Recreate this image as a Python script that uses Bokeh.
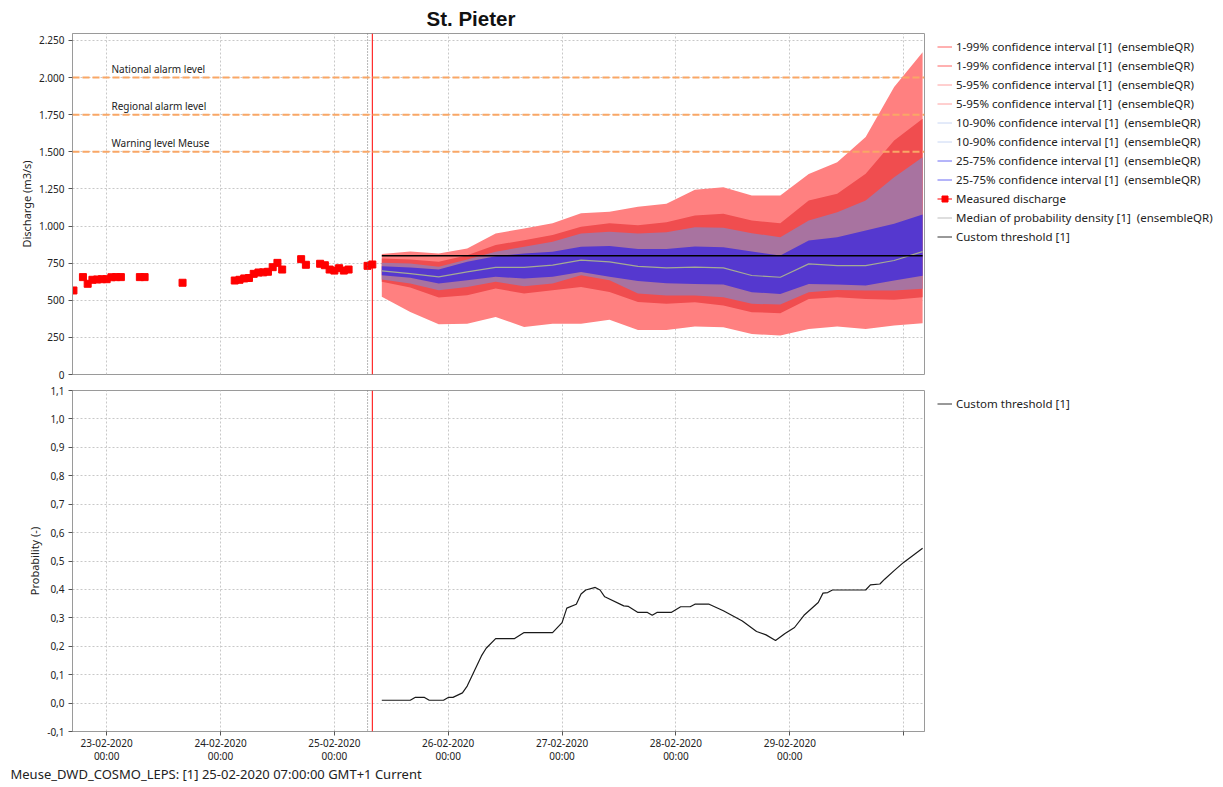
import pandas as pd
from bokeh.plotting import figure
from bokeh.layouts import column
from bokeh.models import (FixedTicker, Span, Label, Legend, LegendItem, Title, Range1d)
from bokeh.embed import file_html
from bokeh.resources import INLINE

# ---------------- data (time = hours since 23-02-2020 00:00, GMT+1) ----------------
day_ticks = [0, 24, 48, 72, 96, 120, 144, 168]
day_labels = ["23-02-2020\n00:00", "24-02-2020\n00:00", "25-02-2020\n00:00", "26-02-2020\n00:00",
              "27-02-2020\n00:00", "28-02-2020\n00:00", "29-02-2020\n00:00", ""]

q_ticks = [0, 250, 500, 750, 1000, 1250, 1500, 1750, 2000, 2250]
p_ticks = [-0.1, 0.0, 0.1, 0.2, 0.3, 0.4, 0.5, 0.6, 0.7, 0.8, 0.9, 1.0, 1.1]

alarm_levels = [2000, 1750, 1500]
alarm_names = ["National alarm level", "Regional alarm level", "Warning level Meuse"]

current_time_h = 55      # 25-02-2020 07:00 (forecast T0)
observed_until_h = 56    # red vertical marker
threshold = 800

meas_h = [-7, -5, -4, -3, -2, -1, 0, 1, 2, 3, 7, 8, 16, 27, 28, 29, 30, 31, 32, 33, 34, 35,
          36, 37, 41, 42, 45, 46, 47, 48, 49, 50, 51, 55, 56]
meas_q = [566, 656, 611, 638, 640, 642, 642, 655, 656, 656, 656, 656, 618, 633, 638, 647, 650,
          678, 687, 688, 692, 723, 752, 707, 777, 739, 746, 736, 707, 700, 716, 700, 707, 732, 741]

fc_h = [58, 64, 70, 76, 82, 88, 94, 100, 106, 112, 118, 124, 130, 136, 142, 148, 154, 160, 166, 172]
q99 = [811, 829, 815, 849, 950, 984, 1018, 1086, 1097, 1130, 1150, 1244, 1262, 1206, 1206, 1351, 1430, 1599, 1936, 2171]
q95 = [782, 775, 759, 804, 872, 905, 939, 996, 1018, 1005, 1026, 1071, 1082, 1037, 1019, 1172, 1217, 1352, 1576, 1722]
q90 = [752, 748, 725, 775, 827, 860, 894, 950, 962, 950, 959, 992, 988, 952, 925, 1037, 1093, 1172, 1329, 1464]
q75 = [730, 721, 707, 759, 797, 815, 827, 860, 865, 845, 846, 862, 857, 828, 801, 902, 925, 970, 1015, 1078]
q50 = [698, 680, 658, 691, 721, 721, 737, 770, 759, 728, 718, 723, 718, 667, 655, 745, 734, 734, 768, 828]
q25 = [669, 651, 613, 635, 658, 646, 658, 691, 658, 630, 615, 610, 606, 554, 543, 610, 606, 599, 633, 666]
q10 = [640, 613, 568, 590, 624, 595, 613, 669, 635, 545, 532, 532, 521, 476, 471, 554, 570, 566, 566, 577]
q05 = [624, 586, 518, 534, 579, 545, 568, 590, 556, 488, 476, 487, 465, 420, 413, 509, 521, 509, 503, 521]
q01 = [523, 421, 338, 342, 388, 320, 342, 342, 369, 300, 300, 323, 318, 273, 262, 307, 323, 307, 330, 346]

prob_h = [58, 64, 65, 67, 68, 71, 72, 73, 75, 76, 77, 79, 80, 82, 86, 88, 94, 96, 97, 99, 100, 101,
          103, 104, 105, 109, 110, 112, 114, 115, 116, 119, 121, 123, 124, 127, 130, 134, 137, 139,
          141, 143, 145, 147, 150, 151, 152, 153, 160, 161, 163, 164, 166, 168, 172]
prob_v = [0.01, 0.01, 0.02, 0.02, 0.01, 0.01, 0.02, 0.02, 0.036, 0.06, 0.095, 0.166, 0.193, 0.227,
          0.227, 0.248, 0.248, 0.283, 0.334, 0.348, 0.384, 0.398, 0.407, 0.398, 0.374, 0.342, 0.34,
          0.319, 0.319, 0.309, 0.319, 0.319, 0.339, 0.339, 0.348, 0.348, 0.325, 0.289, 0.252, 0.24,
          0.22, 0.245, 0.266, 0.309, 0.354, 0.387, 0.389, 0.398, 0.398, 0.416, 0.419, 0.436, 0.466,
          0.495, 0.545]

# ---------------- styling ----------------
FONT = "Noto Sans"
GRID = "#C8C8C8"
AXIS = "#9A9A9A"
TXT = "#222222"
FW, FH = 852, 341

xr = Range1d(-7.2, 172.4)


def base_fig(yr, top, bottom):
    p = figure(frame_width=FW, frame_height=FH, x_range=xr, y_range=yr,
               output_backend="svg", toolbar_location=None,
               min_border_left=72, min_border_right=295,
               min_border_top=top, min_border_bottom=bottom)
    p.outline_line_color = AXIS
    p.background_fill_color = "white"
    p.border_fill_color = "white"
    p.xgrid.ticker = FixedTicker(ticks=day_ticks)
    for g in (p.xgrid, p.ygrid):
        g.grid_line_color = GRID
        g.grid_line_dash = "2 2"
        g.grid_line_width = 1
    for ax in (p.xaxis, p.yaxis):
        ax.axis_line_color = AXIS
        ax.major_tick_line_color = "#555555"
        ax.major_tick_out = 4
        ax.major_tick_in = 0
        ax.minor_tick_out = 0
        ax.minor_tick_in = 0
        ax.major_label_text_font = FONT
        ax.major_label_text_font_size = "10px"
        ax.major_label_text_color = TXT
        ax.axis_label_text_font = FONT
        ax.axis_label_text_font_size = "11px"
        ax.axis_label_text_font_style = "normal"
        ax.axis_label_text_color = TXT
    p.yaxis.major_label_standoff = 4
    p.yaxis.axis_label_standoff = 2
    p.add_layout(Span(location=current_time_h, dimension="height", line_color="#707070",
                      line_dash="1 2", line_width=1))
    p.add_layout(Span(location=observed_until_h, dimension="height", line_color="#FF0000",
                      line_width=1))
    return p


def make_legend(items):
    n = len(items)
    h = n * 19 + (n - 1) * 0
    return Legend(items=items, location=(13, FH - 4 - h), orientation="vertical",
                  padding=0, margin=0, spacing=0, glyph_height=19, glyph_width=15,
                  label_height=19, label_standoff=4, label_text_font=FONT,
                  label_text_font_size="11.5px", label_text_color=TXT,
                  background_fill_alpha=0, border_line_alpha=0,
                  inactive_fill_alpha=0)


def swatch(fig, x, y, color):
    # hidden series line: only its legend symbol (a line, as in the source chart) is shown
    return fig.line(x=x, y=y, line_color=color, line_width=1, visible=False)


# ---------------- top: discharge ----------------
p1 = base_fig(Range1d(0, 2297), 33, 8)
p1.xaxis.visible = False
p1.yaxis.ticker = FixedTicker(ticks=q_ticks)
p1.yaxis.major_label_overrides = {t: f"{t:,}".replace(",", ".") for t in q_ticks}
p1.yaxis.axis_label = "Discharge (m3/s)"

p1.title.text = "St. Pieter"
p1.title.align = "left"
p1.title.offset = 354
p1.title.text_font = "Liberation Sans"
p1.title.text_font_size = "20.5px"
p1.title.text_font_style = "bold"
p1.title.text_color = "#111111"
p1.title.standoff = 8

for lvl, name in zip(alarm_levels, alarm_names):
    p1.add_layout(Span(location=lvl, dimension="width", line_color="#F9A766",
                       line_dash="7 3", line_width=2))
    p1.add_layout(Label(x=xr.start, y=lvl, x_offset=39, y_offset=2, text=name,
                        text_baseline="bottom", text_font=FONT, text_font_size="10px",
                        text_color=TXT))

p1.varea(x=fc_h, y1=q01, y2=q99, fill_color="#FF8080")
p1.varea(x=fc_h, y1=q05, y2=q95, fill_color="#F04D4F")
p1.varea(x=fc_h, y1=q10, y2=q90, fill_color="#A873A0")
p1.varea(x=fc_h, y1=q25, y2=q75, fill_color="#5538CF")
r_med = p1.line(x=fc_h, y=q50, line_color="#A5AA94", line_width=1.2)
r_thr = p1.line(x=[fc_h[0], fc_h[-1]], y=[threshold, threshold], line_color="#000000",
                line_width=1.5)
r_meas = p1.scatter(x=meas_h, y=meas_q, marker="square", size=7, fill_color="#FF0000",
                    line_color="#FF0000")

leg_items = [
    LegendItem(label="1-99% confidence interval [1]  (ensembleQR)", renderers=[swatch(p1, fc_h, q99, "#FF6262")]),
    LegendItem(label="1-99% confidence interval [1]  (ensembleQR)", renderers=[swatch(p1, fc_h, q01, "#FF6262")]),
    LegendItem(label="5-95% confidence interval [1]  (ensembleQR)", renderers=[swatch(p1, fc_h, q95, "#FFA0A0")]),
    LegendItem(label="5-95% confidence interval [1]  (ensembleQR)", renderers=[swatch(p1, fc_h, q05, "#FFA0A0")]),
    LegendItem(label="10-90% confidence interval [1]  (ensembleQR)", renderers=[swatch(p1, fc_h, q90, "#C8D6F4")]),
    LegendItem(label="10-90% confidence interval [1]  (ensembleQR)", renderers=[swatch(p1, fc_h, q10, "#C8D6F4")]),
    LegendItem(label="25-75% confidence interval [1]  (ensembleQR)", renderers=[swatch(p1, fc_h, q75, "#6A6AF4")]),
    LegendItem(label="25-75% confidence interval [1]  (ensembleQR)", renderers=[swatch(p1, fc_h, q25, "#6A6AF4")]),
    LegendItem(label="Measured discharge", renderers=[swatch(p1, meas_h, meas_q, "#FF0000"), r_meas]),
    LegendItem(label="Median of probability density [1]  (ensembleQR)", renderers=[swatch(p1, fc_h, q50, "#BDBDBD")]),
    LegendItem(label="Custom threshold [1]", renderers=[swatch(p1, fc_h, [threshold] * len(fc_h), "#333333")]),
]
p1.add_layout(make_legend(leg_items), "right")

# ---------------- bottom: probability ----------------
p2 = base_fig(Range1d(-0.1, 1.1), 8, 54)
p2.yaxis.ticker = FixedTicker(ticks=p_ticks)
p2.yaxis.major_label_overrides = {t: f"{t:.1f}".replace(".", ",") for t in p_ticks}
p2.yaxis.axis_label = "Probability (-)"
p2.xaxis.ticker = FixedTicker(ticks=day_ticks)
p2.xaxis.major_label_overrides = dict(zip(day_ticks, day_labels))
p2.xaxis.major_label_standoff = 0
p2.xaxis.major_label_text_line_height = 0.93

r_prob = p2.line(x=prob_h, y=prob_v, line_color="#1A1A1A", line_width=1.2)
p2.add_layout(make_legend([LegendItem(label="Custom threshold [1]",
                                      renderers=[swatch(p2, prob_h, prob_v, "#333333")])]), "right")

p2.add_layout(Title(text="Meuse_DWD_COSMO_LEPS: [1] 25-02-2020 07:00:00 GMT+1 Current",
                    align="left", offset=-62, text_font=FONT, text_font_size="13px",
                    text_font_style="normal", text_color=TXT, standoff=-5), "below")

layout = column(p1, p2, spacing=0)
open("out.html", "w").write(file_html(layout, INLINE))
